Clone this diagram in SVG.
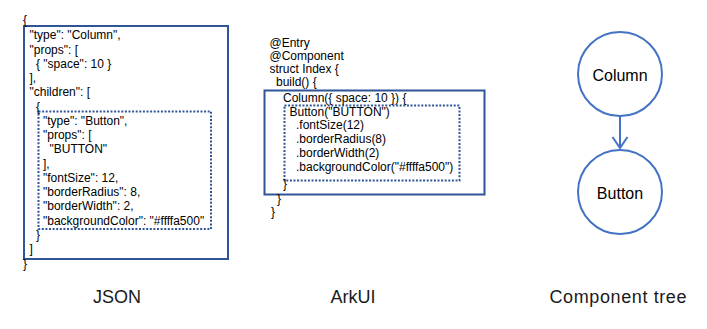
<svg xmlns="http://www.w3.org/2000/svg" width="707" height="329" viewBox="0 0 707 329">
<style>
.code{font-family:"Liberation Sans",Arial,sans-serif;font-size:12px;fill:#000;}
.label{font-family:"Liberation Sans",Arial,sans-serif;font-size:18px;fill:#1a1a1a;text-anchor:middle;}
.node-text{font-family:"Liberation Sans",Arial,sans-serif;font-size:16px;fill:#000;text-anchor:middle;}
.solid{fill:none;stroke:#2f5597;stroke-width:2;}
.dotted{fill:none;stroke:#2f5597;stroke-width:2;stroke-dasharray:2 1.6;}
.circle{fill:#fff;stroke:#4472c4;stroke-width:2;}
.conn{fill:none;stroke:#4472c4;stroke-width:2;}
</style>
<rect width="707" height="329" fill="#fff"/>

<g id="json">
<rect class="solid" x="24" y="26" width="204" height="233"/>
<rect class="dotted" x="38.5" y="111.5" width="172.5" height="117.5"/>
<text class="code" x="23" y="24">{</text>
<text class="code" x="29.5" y="39.3">"type": "Column",</text>
<text class="code" x="29.5" y="53.6">"props": [</text>
<text class="code" x="36" y="67.8">{ "space": 10 }</text>
<text class="code" x="29.5" y="82.1">],</text>
<text class="code" x="29.5" y="96.3">"children": [</text>
<text class="code" x="36" y="110.6">{</text>
<text class="code" x="43" y="124.9">"type": "Button",</text>
<text class="code" x="43" y="139.1">"props": [</text>
<text class="code" x="49.5" y="153.4">"BUTTON"</text>
<text class="code" x="43" y="167.6">],</text>
<text class="code" x="43" y="181.9">"fontSize": 12,</text>
<text class="code" x="43" y="196.2">"borderRadius": 8,</text>
<text class="code" x="43" y="210.4">"borderWidth": 2,</text>
<text class="code" x="43" y="224.7">"backgroundColor": "#ffffa500"</text>
<text class="code" x="36" y="238.9">}</text>
<text class="code" x="29.5" y="253.2">]</text>
<text class="code" x="23" y="267.5">}</text>
</g>

<g id="arkui">
<rect class="solid" x="264.5" y="90.5" width="220" height="104"/>
<rect class="dotted" x="284.5" y="105.5" width="175" height="75"/>
<text class="code" x="269.5" y="47.3">@Entry</text>
<text class="code" x="269.5" y="60.3">@Component</text>
<text class="code" x="269.5" y="73.3">struct Index {</text>
<text class="code" x="276" y="86">build() {</text>
<text class="code" x="283" y="102">Column({ space: 10 }) {</text>
<text class="code" x="289.5" y="115.5">Button("BUTTON")</text>
<text class="code" x="296" y="129.2">.fontSize(12)</text>
<text class="code" x="296" y="143">.borderRadius(8)</text>
<text class="code" x="296" y="156.7">.borderWidth(2)</text>
<text class="code" x="296" y="170.5">.backgroundColor("#ffffa500")</text>
<text class="code" x="283" y="187.5">}</text>
<text class="code" x="277" y="203">}</text>
<text class="code" x="271" y="216">}</text>
</g>

<g id="connectors">
<line class="conn" x1="620" y1="116" x2="620" y2="147.5"/>
<polyline class="conn" points="612.5,137 620,148 627.5,137"/>
</g>

<g id="node-column">
<circle class="circle" cx="620" cy="74" r="42"/>
<text class="node-text" x="620" y="80.5">Column</text>
</g>

<g id="node-button">
<circle class="circle" cx="620" cy="192" r="42"/>
<text class="node-text" x="620" y="198.5">Button</text>
</g>

<g id="labels">
<text class="label" x="117" y="303">JSON</text>
<text class="label" x="353" y="303">ArkUI</text>
<text class="label" x="618" y="303" textLength="137" lengthAdjust="spacing">Component tree</text>
</g>
</svg>
